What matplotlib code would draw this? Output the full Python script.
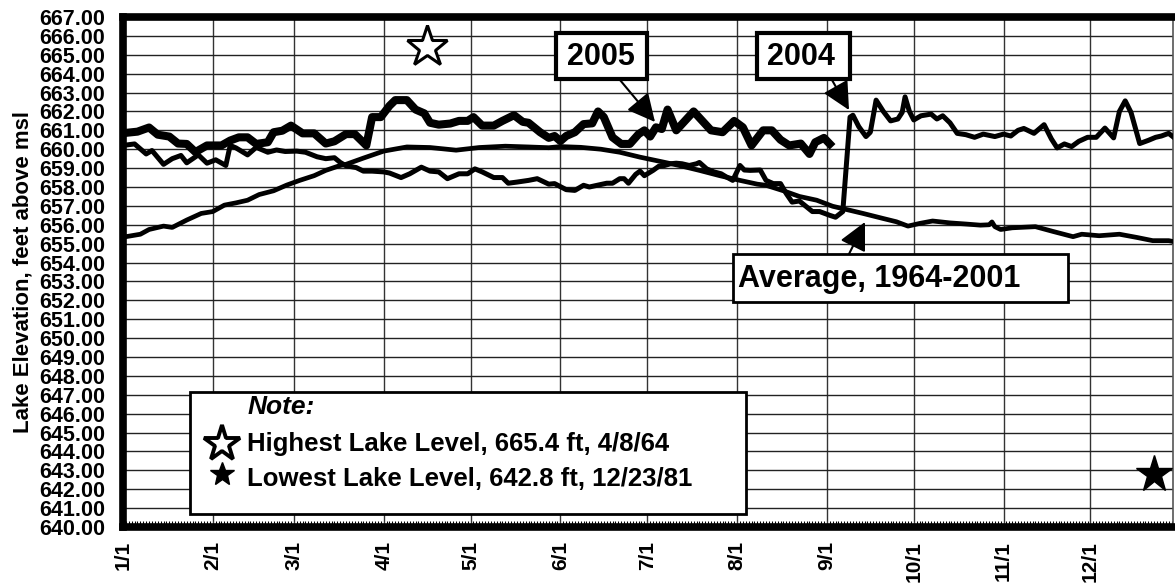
import matplotlib
matplotlib.use("Agg")
import matplotlib.pyplot as plt
from matplotlib.patches import Rectangle
import numpy as np

plt.rcParams['font.family'] = ['Liberation Sans', 'DejaVu Sans']
plt.rcParams['font.weight'] = 'bold'

# ---------------- data ----------------
month_days = [0, 31, 59, 90, 120, 151, 181, 212, 243, 273, 304, 334]
month_labels = ['1/1', '2/1', '3/1', '4/1', '5/1', '6/1', '7/1', '8/1', '9/1', '10/1', '11/1', '12/1']
y_ticks = list(range(640, 668))

days_2005 = [0, 5, 9, 12, 16, 19, 22, 25, 29, 34, 37, 40, 43, 46, 50, 52, 55, 58, 62, 66,
             70, 73, 77, 80, 84, 86, 89, 92, 94, 98, 101, 104, 106, 109, 113, 116, 119, 121,
             124, 128, 131, 135, 138, 140, 144, 147, 149, 151, 153, 156, 159, 162, 164, 166,
             169, 172, 175, 178, 180, 182, 184, 186, 188, 191, 194, 197, 200, 203, 207, 211,
             214, 217, 219, 221, 224, 227, 230, 234, 237, 239, 242, 244]
level_2005 = [660.85, 660.93, 661.15, 660.77, 660.67, 660.30, 660.28, 659.85, 660.20, 660.20,
              660.46, 660.63, 660.63, 660.28, 660.37, 660.90, 660.98, 661.25, 660.84, 660.84,
              660.30, 660.42, 660.80, 660.80, 660.20, 661.70, 661.70, 662.30, 662.60, 662.60,
              662.10, 661.90, 661.40, 661.30, 661.36, 661.50, 661.50, 661.70, 661.25, 661.25,
              661.50, 661.80, 661.45, 661.40, 660.90, 660.60, 660.70, 660.43, 660.70, 660.90,
              661.33, 661.37, 662.00, 661.70, 660.63, 660.28, 660.28, 660.80, 661.00, 660.67,
              661.16, 661.07, 662.10, 661.00, 661.50, 662.00, 661.50, 661.00, 660.90, 661.50,
              661.16, 660.20, 660.60, 661.00, 661.00, 660.50, 660.20, 660.30, 659.75, 660.37,
              660.60, 660.28]

days_2004 = [0, 4, 8, 10, 14, 17, 20, 22, 26, 29, 32, 35.5, 37, 39, 43, 46, 50, 53, 56, 60,
             63, 67, 70, 73, 75, 77, 80.5, 83, 86, 90, 92, 96, 99, 103, 106, 109, 112, 116,
             119, 121.5, 124, 128, 131, 133, 136, 140, 143, 147, 149, 150, 153, 156, 159, 161,
             164, 167, 169, 171.5, 173, 174.5, 177, 178.5, 180, 183, 185, 187, 189, 191, 193,
             195.5, 198, 199, 201.5, 204, 206.5, 208, 210.5, 213, 214.5, 216.5, 220, 222, 224.5,
             227, 229, 231, 233.5, 236, 238, 240.5, 244, 246, 248.5, 251, 252, 254, 256.5, 258,
             260, 262.5, 265, 267.5, 269, 270, 271.5, 273, 275.5, 279, 281, 283, 285.5, 288, 291,
             294, 297, 301, 304, 306.5, 309, 311, 314.5, 318, 320.5, 322.5, 325, 327.5, 330, 333,
             336, 339, 342, 344, 346, 348, 351, 354, 356.5, 358.5, 361, 363]
level_2004 = [660.20, 660.28, 659.75, 659.93, 659.20, 659.50, 659.67, 659.28, 659.70, 659.26,
              659.44, 659.14, 660.20, 660.07, 659.70, 660.10, 659.84, 659.96, 659.88, 659.90,
              659.84, 659.60, 659.50, 659.55, 659.30, 659.12, 659.03, 658.84, 658.84, 658.80,
              658.74, 658.50, 658.70, 659.05, 658.84, 658.80, 658.44, 658.70, 658.70, 658.96,
              658.80, 658.50, 658.50, 658.20, 658.26, 658.35, 658.44, 658.15, 658.18, 658.10,
              657.86, 657.82, 658.09, 658.00, 658.10, 658.20, 658.20, 658.44, 658.44, 658.20,
              658.67, 658.84, 658.60, 658.88, 659.10, 659.14, 659.23, 659.26, 659.23, 659.14,
              659.23, 659.30, 658.96, 658.80, 658.70, 658.56, 658.35, 659.14, 658.90, 658.88,
              658.90, 658.35, 658.18, 658.18, 657.65, 657.20, 657.26, 656.95, 656.70, 656.70,
              656.50, 656.40, 656.70, 661.70, 661.80, 661.20, 660.67, 660.90, 662.60, 662.00,
              661.50, 661.60, 661.95, 662.77, 662.00, 661.55, 661.77, 661.86, 661.60, 661.77,
              661.40, 660.84, 660.77, 660.63, 660.80, 660.67, 660.80, 660.70, 661.00, 661.10,
              660.84, 661.30, 660.55, 660.07, 660.28, 660.14, 660.42, 660.63, 660.63, 661.12,
              660.60, 662.00, 662.56, 661.95, 660.30, 660.47, 660.63, 660.70, 660.84, 660.60]

days_avg = [0, 1, 6, 9, 14, 17, 22, 27, 31, 35, 39, 43, 47, 52, 56.5, 61, 66, 70, 75, 77, 83,
            90, 98, 106, 115, 123, 132, 140, 147, 151, 158, 165, 171.5, 178.5, 185, 192, 199,
            206, 213, 219, 222, 228, 233.5, 239.5, 245, 250, 255.5, 262.5, 267, 271, 275,
            279.5, 285.5, 291, 296, 299, 300, 301, 303, 307, 315, 321, 328, 331, 337, 344,
            350, 355.5, 361, 363]
level_avg = [655.33, 655.37, 655.50, 655.75, 655.93, 655.86, 656.25, 656.60, 656.70, 657.04,
             657.16, 657.30, 657.60, 657.80, 658.10, 658.35, 658.60, 658.88, 659.14, 659.20,
             659.53, 659.90, 660.12, 660.09, 659.95, 660.09, 660.16, 660.12, 660.08, 660.14,
             660.10, 660.00, 659.84, 659.58, 659.37, 659.14, 658.88, 658.60, 658.35, 658.15,
             658.09, 657.80, 657.50, 657.30, 656.98, 656.80, 656.60, 656.33, 656.16, 655.93,
             656.07, 656.20, 656.10, 656.04, 655.98, 656.00, 656.15, 655.90, 655.75, 655.84,
             655.90, 655.65, 655.37, 655.50, 655.42, 655.50, 655.33, 655.16, 655.16, 655.10]

record_high_day, record_high = 105, 665.4
record_low_day, record_low = 356, 642.8

# ---------------- figure ----------------
W, H = 1175, 586
fig = plt.figure(figsize=(W / 100, H / 100), dpi=100)
L, R, T, B = 123, 1173, 17, 527
ax = fig.add_axes([L / W, 1 - B / H, (R - L) / W, (B - T) / H])
ax.set_xlim(0, 362.5)
ax.set_ylim(640, 667)

ax.set_yticks(y_ticks)
ax.set_yticklabels([f"{v:.2f}" for v in y_ticks], fontsize=15.5, fontweight='bold')
ax.set_xticks(month_days)
ax.set_xticklabels(month_labels, rotation=90, fontsize=15, fontweight='bold')
ax.set_xticks(np.arange(0, 363, 1), minor=True)
ax.tick_params(axis='y', which='major', length=0, pad=13)
ax.tick_params(axis='x', which='major', length=0, pad=10)
ax.tick_params(axis='x', which='minor', direction='in', length=4, width=0.8, color='black')

ax.grid(True, axis='y', color='#222222', lw=1.0)
ax.grid(True, axis='x', color='#333333', lw=1.0)
ax.set_axisbelow(True)

for s in ['left', 'top', 'bottom']:
    ax.spines[s].set_linewidth(5.5)
    ax.spines[s].set_color('black')
ax.spines['right'].set_linewidth(1.2)
ax.spines['right'].set_color('#555555')

ax.set_ylabel("Lake Elevation, feet above msl", fontsize=16, fontweight='bold', labelpad=4)

ax.plot(days_avg, level_avg, color='black', lw=3.4, solid_joinstyle='round', zorder=3)
ax.plot(days_2004, level_2004, color='black', lw=3.6, solid_joinstyle='round', zorder=4)
ax.plot(days_2005, level_2005, color='black', lw=5.8, solid_joinstyle='round', zorder=5)

ax.plot([record_high_day], [record_high], marker='*', ms=31, mfc='white', mec='black',
        mew=2.2, ls='none', zorder=6)
ax.plot([record_low_day], [record_low], marker='*', ms=28, mfc='black', mec='black',
        ls='none', zorder=6, clip_on=False)

# helpers: pixel -> data
def px2d(px, py):
    return (px - L) / (R - L) * 362.5, 667 - (py - T) / (B - T) * 27

def box(x0, y0, x1, y1, lw=2.5):
    (dx0, dy0), (dx1, dy1) = px2d(x0, y1), px2d(x1, y0)
    ax.add_patch(Rectangle((dx0, dy0), dx1 - dx0, dy1 - dy0, fc='white', ec='black',
                           lw=lw, zorder=8))

def arrow(x0, y0, x1, y1):
    ax.annotate("", xy=px2d(x1, y1), xytext=px2d(x0, y0),
                arrowprops=dict(arrowstyle='-|>,head_length=0.9,head_width=0.45', lw=1.5,
                                color='black', mutation_scale=19, shrinkA=0, shrinkB=0),
                zorder=9)

# 2005 label
box(556, 33, 647, 79, lw=3)
ax.text(*px2d(601, 57), "2005", fontsize=22, fontweight='bold', ha='center', va='center', zorder=9)
arrow(620, 80, 655, 122)
# 2004 label
box(757, 33, 850, 79, lw=3)
ax.text(*px2d(801, 57), "2004", fontsize=22, fontweight='bold', ha='center', va='center', zorder=9)
arrow(832, 80, 849, 110)
# Average label
box(733, 254, 1068, 302, lw=2)
ax.text(*px2d(738, 279), "Average, 1964-2001", fontsize=22, fontweight='bold', ha='left',
        va='center', zorder=9)
arrow(849, 254, 865, 222)

# Note box
box(190, 392, 746, 514, lw=2)
ax.text(*px2d(248, 407), "Note:", fontsize=19, fontweight='bold', style='italic', ha='left',
        va='center', zorder=9)
ax.text(*px2d(247, 444), f"Highest Lake Level, {record_high} ft, 4/8/64", fontsize=18.5,
        fontweight='bold', ha='left', va='center', zorder=9)
ax.text(*px2d(247, 479), f"Lowest Lake Level, {record_low} ft, 12/23/81", fontsize=18.5,
        fontweight='bold', ha='left', va='center', zorder=9)
ax.plot(*px2d(222, 444), marker='*', ms=27, mfc='white', mec='black', mew=2.8, zorder=10)
ax.plot(*px2d(222, 474), marker='*', ms=18, mfc='black', mec='black', zorder=10)

fig.savefig("out.png", dpi=100)
